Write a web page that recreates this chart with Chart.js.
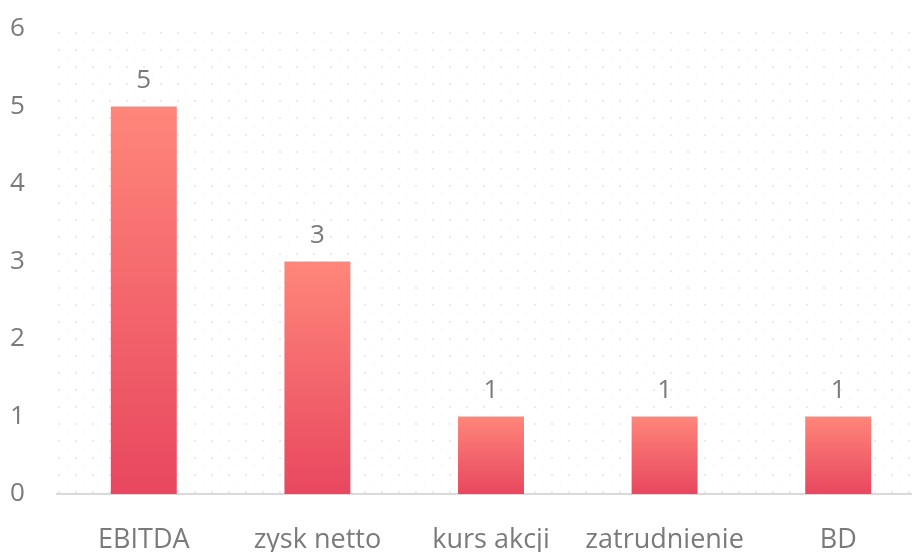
<!DOCTYPE html>
<html>
<head>
<meta charset="utf-8">
<script src="https://cdn.jsdelivr.net/npm/chart.js@4"></script>
<style>
  html, body { margin: 0; padding: 0; background: #fff; overflow: hidden; }
  #wrap { width: 925px; height: 552px; }
</style>
</head>
<body>
<div id="wrap"><canvas id="chart"></canvas></div>
<script>
// data
const categories = ['EBITDA', 'zysk netto', 'kurs akcji', 'zatrudnienie', 'BD'];
const counts = [5, 3, 1, 1, 1];
const yMax = 6;

const textGray = '#7a7a7a';
const font = "'Open Sans', 'Noto Sans', sans-serif";

// faint dotted pattern behind the plot, like the office chart fill
const dotPattern = {
    id: 'dotPattern',
    beforeDatasetsDraw(chart) {
        const a = chart.chartArea;
        const c = chart.ctx;
        c.save();
        let row = 0;
        for (let y = a.top + 3; y < a.bottom; y += 8.5) {
            const off = (row % 2) ? 8.5 : 0;
            c.fillStyle = (row % 2) ? '#f3f3f3' : '#ebebeb';
            for (let x = a.left + 1 + off; x < a.right; x += 17) {
                if (row % 2) c.fillRect(x, y, 2, 1);
                else c.fillRect(x, y, 2, 2);
            }
            row++;
        }
        c.restore();
    }
};

// value above each bar
const barLabels = {
    id: 'barLabels',
    afterDatasetsDraw(chart) {
        const c = chart.ctx;
        const meta = chart.getDatasetMeta(0);
        c.save();
        c.fillStyle = textGray;
        c.font = '26px ' + font;
        c.textAlign = 'center';
        c.textBaseline = 'bottom';
        meta.data.forEach((bar, i) => {
            c.fillText(chart.data.datasets[0].data[i], bar.x, bar.y - 13);
        });
        c.restore();
    }
};

function barGradient(context) {
    const chart = context.chart;
    const area = chart.chartArea;
    if (!area || !chart.scales.y) return '#F06A70';
    const y = chart.scales.y;
    const top = y.getPixelForValue(context.raw);
    const bottom = y.getPixelForValue(0);
    const g = chart.ctx.createLinearGradient(0, top, 0, bottom);
    g.addColorStop(0, '#FF867A');
    g.addColorStop(1, '#E8475F');
    return g;
}

const ctx = document.getElementById('chart');
new Chart(ctx, {
    type: 'bar',
    data: {
        labels: categories,
        datasets: [{
            data: counts,
            backgroundColor: barGradient,
            borderWidth: 0,
            barPercentage: 0.38,
            categoryPercentage: 1
        }]
    },
    options: {
        responsive: true,
        maintainAspectRatio: false,
        animation: false,
        layout: { padding: { left: 10, right: 0, top: 29, bottom: 0 } },
        plugins: {
            legend: { display: false },
            tooltip: { enabled: false }
        },
        scales: {
            x: {
                grid: { display: false, drawTicks: false },
                border: { display: true, color: '#d9d9d9', width: 2 },
                afterFit(scale) { scale.height = 58; },
                ticks: {
                    color: textGray,
                    font: { family: font, size: 27 },
                    padding: 30,
                    maxRotation: 0
                }
            },
            y: {
                min: 0,
                max: yMax,
                grid: { display: false, drawTicks: false },
                border: { display: false },
                afterFit(scale) { scale.width = 47; },
                ticks: {
                    stepSize: 1,
                    color: textGray,
                    font: { family: font, size: 26 },
                    crossAlign: 'far',
                    padding: 0
                }
            }
        }
    },
    plugins: [dotPattern, barLabels]
});
</script>
</body>
</html>
